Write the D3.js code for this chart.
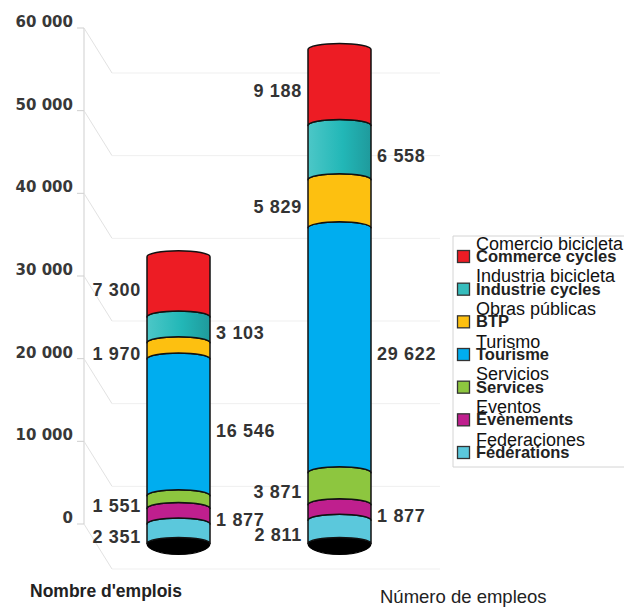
<!DOCTYPE html>
<html>
<head>
<meta charset="utf-8">
<script src="https://cdn.jsdelivr.net/npm/d3@7"></script>
<style>
  html, body { margin: 0; padding: 0; background: #fff; }
  svg { display: block; }
</style>
</head>
<body>
<svg id="chart" width="631" height="608"></svg>
<script>
// Stack order, bottom to top
const sectorsFr = ["Fédérations", "Évènements", "Services", "Tourisme", "BTP", "Industrie cycles", "Commerce cycles"];
const sectorsEs = ["Federaciones", "Eventos", "Servicios", "Turismo", "Obras públicas", "Industria bicicleta", "Comercio bicicleta"];
const sectorColors = ["#5bc8dc", "#bf1f8e", "#8dc63f", "#00adef", "#fdc010", "url(#tealShade)", "#ed1c24"];
const swatchColors = ["#5bc8dc", "#bf1f8e", "#8dc63f", "#00adef", "#fdc010", "#36bdbd", "#ed1c24"];

// Two columns: jobs count (French) and jobs count (Spanish)
const barTitles = ["Nombre d'emplois", "Número de empleos"];
const emploisFr = [2351, 1877, 1551, 16546, 1970, 3103, 7300];
const empleosEs = [2811, 1877, 3871, 29622, 5829, 6558, 9188];

const tickValues = [0, 10000, 20000, 30000, 40000, 50000, 60000];

const svg = d3.select("#chart");
const fr = d3.formatLocale({ decimal: ",", thousands: " ", grouping: [3], currency: ["", " €"] });
const fmt = fr.format(",");

const y = d3.scaleLinear().domain([0, 60000]).range([524, 28]);
const x = d3.scalePoint().domain(barTitles).range([178.5, 339.5]);
const barW = 63;
const axisX = 84;
const wallDx = 28, wallDy = 45, wallEnd = 440;
const barDrop = 19.5;      // cylinders stand in front of the axis plane
const capRy = 6, baseRy = 11;

// gradient for the cycle-industry band
const defs = svg.append("defs");
const grad = defs.append("linearGradient").attr("id", "tealShade").attr("x1", 0).attr("x2", 1).attr("y1", 0).attr("y2", 0);
grad.append("stop").attr("offset", "0%").attr("stop-color", "#4cc7c7");
grad.append("stop").attr("offset", "55%").attr("stop-color", "#22b7b7");
grad.append("stop").attr("offset", "100%").attr("stop-color", "#1f9a9c");

// walls: axis, ticks, receding lines and back gridlines
const grid = svg.append("g");
grid.append("line").attr("x1", axisX).attr("x2", axisX).attr("y1", y(60000)).attr("y2", y(0))
  .attr("stroke", "#cfcfcf").attr("stroke-width", 1);
tickValues.forEach(t => {
  const ty = y(t);
  grid.append("line").attr("x1", axisX - 7).attr("x2", axisX).attr("y1", ty).attr("y2", ty)
    .attr("stroke", "#cfcfcf");
  grid.append("line").attr("x1", axisX).attr("y1", ty).attr("x2", axisX + wallDx).attr("y2", ty + wallDy)
    .attr("stroke", "#e2e2e2");
  grid.append("line").attr("x1", axisX + wallDx).attr("y1", ty + wallDy).attr("x2", wallEnd).attr("y2", ty + wallDy)
    .attr("stroke", "#efefef");
});

// axis labels
svg.append("g").selectAll("text").data(tickValues).join("text")
  .attr("x", 73).attr("y", d => y(d) - 1)
  .attr("text-anchor", "end")
  .attr("font-family", "'DejaVu Sans', sans-serif")
  .attr("font-weight", "bold").attr("font-size", 15)
  .attr("fill", "#383838")
  .text(d => fmt(d));

// cylinders
const yb = v => y(v) + barDrop;
const bars = [
  { title: barTitles[0], values: emploisFr },
  { title: barTitles[1], values: empleosEs }
];
const barLayer = svg.append("g");
const labelLayer = svg.append("g");

bars.forEach(b => {
  const cx = x(b.title), x0 = cx - barW / 2, x1 = cx + barW / 2, r = barW / 2;
  const ends = Array.from(d3.cumsum(b.values));
  const starts = [0, ...ends.slice(0, -1)];

  // dark base cap
  barLayer.append("path")
    .attr("d", `M${x0},${yb(0)} A${r},${capRy} 0 0 1 ${x1},${yb(0)} A${r},${baseRy} 0 0 1 ${x0},${yb(0)} Z`)
    .attr("fill", "#000").attr("stroke", "#000").attr("stroke-width", 1.2);

  b.values.forEach((v, i) => {
    const ya = yb(starts[i]), yt = yb(ends[i]);
    barLayer.append("path")
      .attr("d", `M${x0},${ya} L${x0},${yt} A${r},${capRy} 0 0 1 ${x1},${yt} L${x1},${ya} A${r},${capRy} 0 0 0 ${x0},${ya} Z`)
      .attr("fill", sectorColors[i])
      .attr("stroke", "#111").attr("stroke-width", 1.5).attr("stroke-linejoin", "round");

    const left = i % 2 === 0;
    labelLayer.append("text")
      .attr("x", left ? x0 - 6 : x1 + 6)
      .attr("y", (ya + yt) / 2 + 3)
      .attr("dy", "0.36em")
      .attr("text-anchor", left ? "end" : "start")
      .attr("font-family", "'Liberation Sans', Arial, sans-serif")
      .attr("font-weight", "bold").attr("font-size", 18)
      .attr("letter-spacing", 0.7)
      .attr("fill", "#333")
      .text(fmt(v));
  });
});

// column titles
svg.append("text").attr("x", 30).attr("y", 597)
  .attr("font-family", "'Liberation Sans', Arial, sans-serif")
  .attr("font-weight", "bold").attr("font-size", 17.5).attr("fill", "#222")
  .text(barTitles[0]);
svg.append("text").attr("x", 380).attr("y", 603)
  .attr("font-family", "'Liberation Sans', Arial, sans-serif")
  .attr("font-size", 18.5).attr("fill", "#222")
  .text(barTitles[1]);

// legend (top entry = top of the stack)
const legendOrder = d3.range(sectorsFr.length).reverse();
const ly = d3.scalePoint().domain(legendOrder).range([262, 458]);
const legend = svg.append("g");
legend.append("path")
  .attr("d", "M624,236 H453 V467 H624")
  .attr("fill", "none").attr("stroke", "#d4d4d4").attr("stroke-width", 1);
const textX = 476;
legendOrder.forEach(i => {
  const base = ly(i);
  legend.append("rect").attr("x", 457.5).attr("y", base - 11.5).attr("width", 12).attr("height", 12)
    .attr("fill", swatchColors[i]).attr("stroke", "#333").attr("stroke-width", 1.3);
  legend.append("text").attr("x", textX).attr("y", base - 12.5)
    .attr("font-family", "'Liberation Sans', Arial, sans-serif")
    .attr("font-size", 18).attr("fill", "#111")
    .text(sectorsEs[i]);
  legend.append("text").attr("x", textX).attr("y", base)
    .attr("font-family", "'Liberation Sans', Arial, sans-serif")
    .attr("font-weight", "bold").attr("font-size", 16.5).attr("fill", "#222")
    .text(sectorsFr[i]);
});
</script>
</body>
</html>
